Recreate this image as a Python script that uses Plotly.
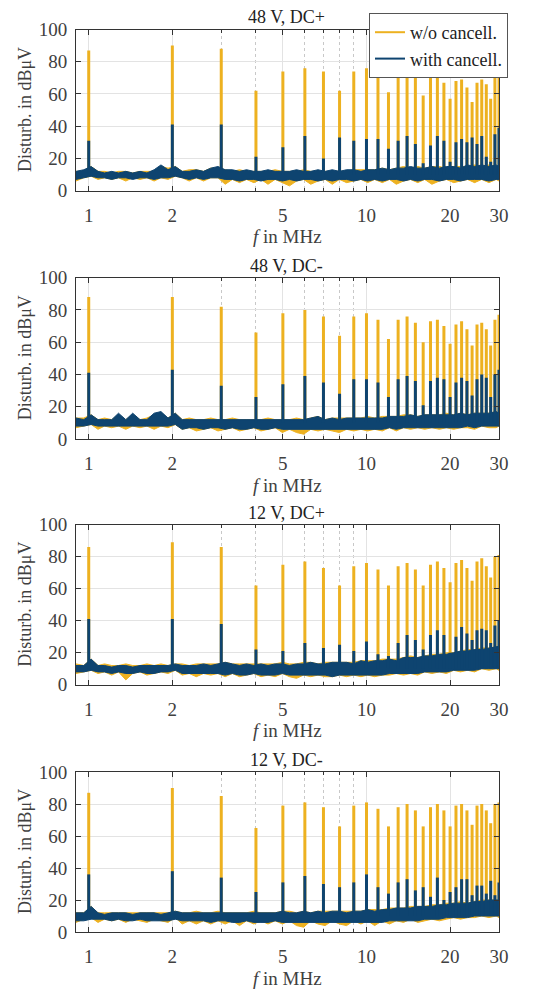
import plotly.graph_objects as go
from plotly.subplots import make_subplots

# ------------------------------------------------------------------
# data
# ------------------------------------------------------------------
titles = ["48 V, DC+", "48 V, DC-", "12 V, DC+", "12 V, DC-"]

# harmonics of the 1 MHz switching frequency
harm_f = list(range(1, 31))

# peak levels in dBuV, one list per panel
peak_wo_1 = [87, 90, 88, 62, 74, 76, 74, 62, 74, 76, 72, 61, 73, 74, 70,
             59, 71, 72, 67, 57, 68, 69, 64, 55, 67, 69, 66, 57, 72, 76]
peak_with_1 = [31, 41, 41, 21, 27, 34, 20, 33, 31, 32, 32, 26, 31, 34, 29,
               17, 28, 34, 31, 18, 30, 32, 30, 33, 29, 34, 21, 18, 35, 39]
peak_wo_2 = [88, 88, 82, 66, 78, 80, 76, 64, 76, 78, 74, 62, 74, 76, 72,
             60, 73, 74, 70, 59, 71, 73, 68, 58, 71, 72, 68, 58, 74, 77]
peak_with_2 = [41, 43, 33, 26, 34, 39, 35, 28, 37, 37, 35, 26, 37, 39, 36,
               21, 36, 38, 37, 26, 35, 38, 36, 27, 37, 40, 38, 26, 40, 43]
peak_wo_3 = [86, 89, 86, 62, 75, 77, 73, 62, 74, 76, 72, 62, 74, 76, 72,
             62, 75, 77, 73, 64, 76, 78, 73, 65, 77, 79, 74, 67, 80, 81]
peak_with_3 = [41, 41, 38, 22, 21, 26, 23, 25, 21, 27, 19, 18, 26, 31, 28,
               22, 31, 34, 31, 20, 30, 36, 32, 28, 34, 35, 34, 26, 37, 40]
peak_wo_4 = [87, 90, 85, 65, 79, 81, 78, 66, 79, 81, 77, 66, 78, 80, 76,
             66, 78, 80, 76, 66, 79, 80, 76, 67, 79, 80, 76, 68, 80, 81]
peak_with_4 = [36, 38, 34, 25, 31, 35, 30, 28, 31, 36, 28, 24, 31, 33, 26,
               28, 22, 34, 20, 25, 28, 33, 33, 23, 29, 29, 24, 32, 23, 31]

# noise floor: frequencies where the band edges were read
floor_f = [0.90, 0.96, 1.02, 1.08, 1.14, 1.21, 1.28, 1.36, 1.44, 1.53,
           1.62, 1.72, 1.82, 1.93, 2.05, 2.17, 2.30, 2.44, 2.59, 2.75,
           2.92, 3.10, 3.29, 3.49, 3.70, 3.93, 4.17, 4.42, 4.69, 4.98,
           5.28, 5.60, 5.94, 6.30, 6.69, 7.10, 7.53, 7.99, 8.48, 9.00,
           9.55, 10.1, 10.7, 11.4, 12.1, 12.8, 13.6, 14.4, 15.3, 16.2,
           17.2, 18.3, 19.4, 20.6, 21.8, 23.1, 24.5, 26.0, 27.6, 29.3, 30.0]

# 48 V, DC+
with_hi_1 = [12, 13, 15, 12, 11, 12, 11, 12, 11, 12,
             11, 13, 16, 13, 15, 12, 12, 13, 12, 14,
             15, 13, 13, 12, 13, 12, 12, 13, 12, 12,
             12, 13, 12, 12, 13, 12, 13, 12, 13, 13,
             12, 13, 13, 14, 13, 14, 14, 15, 14, 14,
             15, 14, 15, 15, 14, 16, 15, 16, 15, 16, 15]
with_lo_1 = [7, 8, 9, 8, 8, 7, 8, 8, 7, 8,
             8, 7, 8, 8, 9, 8, 7, 8, 7, 8,
             8, 7, 7, 6, 7, 7, 6, 7, 7, 6,
             7, 6, 7, 7, 6, 7, 6, 7, 7, 6,
             7, 6, 7, 6, 7, 7, 6, 7, 6, 7,
             7, 6, 7, 7, 6, 7, 7, 7, 6, 7, 7]
wo_hi_1 = [12, 12, 15, 12, 12, 11, 12, 12, 11, 12,
           12, 12, 15, 14, 15, 12, 13, 13, 12, 14,
           14, 13, 12, 13, 12, 12, 12, 12, 13, 12,
           12, 12, 13, 12, 12, 12, 12, 12, 12, 13,
           13, 13, 13, 14, 13, 14, 15, 14, 15, 14,
           15, 15, 14, 15, 15, 15, 16, 15, 16, 15, 16]
wo_lo_1 = [6, 8, 9, 7, 8, 7, 8, 6, 8, 7,
           8, 6, 8, 7, 9, 8, 6, 8, 6, 8,
           8, 4, 7, 5, 7, 5, 7, 4, 7, 5,
           3, 6, 7, 4, 6, 7, 4, 7, 5, 6,
           7, 5, 7, 5, 7, 4, 6, 7, 5, 7,
           4, 6, 7, 5, 6, 7, 5, 7, 5, 7, 6]

# 48 V, DC-
with_hi_2 = [13, 12, 15, 12, 12, 12, 16, 12, 16, 12,
             12, 16, 17, 13, 16, 12, 12, 12, 12, 12,
             12, 12, 12, 12, 12, 12, 12, 12, 12, 12,
             12, 12, 12, 13, 14, 12, 13, 12, 13, 13,
             13, 13, 13, 13, 14, 14, 14, 15, 14, 15,
             15, 15, 15, 15, 16, 15, 16, 16, 16, 17, 16]
with_lo_2 = [8, 8, 9, 8, 8, 8, 8, 8, 8, 8,
             8, 8, 8, 8, 9, 6, 7, 7, 6, 7,
             7, 6, 7, 6, 6, 7, 6, 6, 7, 6,
             6, 6, 6, 6, 6, 6, 6, 6, 6, 6,
             6, 6, 6, 6, 7, 6, 7, 7, 7, 7,
             7, 7, 7, 7, 7, 8, 7, 8, 8, 8, 8]
wo_hi_2 = [13, 13, 15, 12, 13, 12, 15, 12, 15, 12,
           13, 15, 16, 13, 16, 12, 13, 12, 12, 13,
           12, 12, 13, 12, 12, 12, 12, 13, 12, 12,
           12, 13, 12, 13, 14, 12, 13, 13, 13, 13,
           13, 14, 13, 14, 14, 14, 15, 15, 14, 15,
           15, 15, 16, 15, 16, 15, 16, 16, 16, 17, 16]
wo_lo_2 = [7, 8, 9, 6, 8, 7, 8, 6, 8, 7,
           8, 6, 8, 7, 9, 6, 7, 5, 6, 7,
           5, 6, 7, 5, 6, 7, 5, 6, 7, 4,
           6, 4, 3, 6, 5, 6, 5, 4, 6, 5,
           6, 5, 6, 5, 7, 5, 7, 6, 7, 6,
           7, 6, 7, 6, 7, 7, 6, 8, 7, 7, 8]

# 12 V, DC+
with_hi_3 = [12, 12, 16, 12, 12, 11, 12, 12, 11, 12,
             12, 12, 12, 12, 13, 12, 12, 12, 13, 12,
             13, 14, 13, 12, 13, 12, 13, 12, 13, 13,
             12, 13, 13, 14, 13, 13, 14, 14, 14, 13,
             15, 14, 15, 15, 16, 15, 17, 17, 17, 18,
             18, 19, 19, 20, 21, 21, 22, 22, 23, 24, 24]
with_lo_3 = [8, 8, 9, 8, 8, 7, 8, 7, 7, 8,
             7, 7, 8, 8, 9, 7, 7, 7, 7, 7,
             7, 6, 7, 6, 6, 7, 6, 6, 6, 7,
             6, 6, 6, 6, 6, 6, 5, 6, 6, 6,
             6, 6, 6, 6, 7, 7, 7, 7, 7, 8,
             8, 8, 8, 9, 9, 9, 9, 10, 10, 10, 10]
wo_hi_3 = [13, 12, 16, 12, 13, 12, 12, 13, 12, 12,
           13, 12, 13, 12, 13, 13, 12, 13, 13, 13,
           13, 14, 13, 13, 13, 13, 13, 13, 13, 14,
           13, 13, 14, 14, 13, 14, 14, 14, 14, 14,
           15, 15, 15, 16, 16, 16, 17, 18, 17, 18,
           19, 19, 20, 20, 21, 22, 22, 23, 23, 24, 24]
wo_lo_3 = [7, 8, 9, 7, 8, 6, 8, 3, 7, 8,
           6, 7, 8, 7, 9, 6, 7, 5, 7, 6,
           7, 5, 7, 5, 6, 7, 5, 6, 5, 7,
           5, 4, 6, 5, 6, 5, 5, 6, 5, 6,
           5, 6, 5, 6, 6, 7, 6, 7, 6, 8,
           7, 8, 7, 9, 8, 9, 8, 10, 9, 10, 9]

# 12 V, DC-
with_hi_4 = [12, 12, 16, 12, 11, 12, 12, 12, 11, 12,
             12, 12, 11, 12, 13, 12, 12, 12, 12, 12,
             12, 12, 12, 12, 12, 12, 12, 12, 12, 13,
             12, 12, 13, 12, 13, 12, 13, 13, 12, 13,
             13, 14, 13, 14, 14, 15, 15, 15, 16, 16,
             16, 17, 17, 18, 18, 18, 19, 19, 20, 20, 20]
with_lo_4 = [7, 7, 8, 8, 8, 7, 8, 7, 7, 8,
             7, 7, 7, 7, 8, 7, 7, 7, 7, 6,
             7, 7, 6, 6, 7, 6, 6, 6, 7, 6,
             6, 6, 6, 6, 6, 6, 6, 6, 6, 6,
             6, 6, 6, 6, 7, 7, 7, 7, 7, 8,
             8, 8, 9, 9, 9, 9, 10, 10, 10, 10, 10]
wo_hi_4 = [12, 12, 16, 12, 12, 12, 12, 12, 12, 12,
           12, 12, 12, 12, 13, 12, 12, 13, 12, 12,
           13, 12, 12, 12, 12, 13, 12, 12, 12, 13,
           13, 12, 13, 12, 13, 13, 13, 13, 13, 13,
           13, 14, 14, 14, 15, 15, 15, 16, 16, 16,
           17, 17, 18, 18, 19, 18, 19, 20, 20, 20, 20]
wo_lo_4 = [6, 8, 9, 6, 8, 7, 8, 6, 8, 7,
           6, 8, 7, 6, 9, 5, 7, 5, 7, 5,
           7, 5, 7, 4, 7, 5, 7, 5, 7, 5,
           7, 4, 3, 7, 5, 4, 7, 5, 4, 7,
           5, 7, 4, 7, 5, 7, 6, 8, 6, 7,
           8, 7, 8, 9, 8, 9, 9, 10, 9, 10, 9]

panels = [
    (peak_wo_1, peak_with_1, wo_lo_1, wo_hi_1, with_lo_1, with_hi_1),
    (peak_wo_2, peak_with_2, wo_lo_2, wo_hi_2, with_lo_2, with_hi_2),
    (peak_wo_3, peak_with_3, wo_lo_3, wo_hi_3, with_lo_3, with_hi_3),
    (peak_wo_4, peak_with_4, wo_lo_4, wo_hi_4, with_lo_4, with_hi_4),
]

# ------------------------------------------------------------------
# styling / geometry
# ------------------------------------------------------------------
YELLOW = "#EDB120"
BLUE = "#0E4470"
TXT = "#404040"
FONT = "Liberation Serif"

OFF = 8                      # the page's default body margin
W, H = 541 - OFF, 989 - OFF
L, R = 76 - OFF, 42
PW = W - L - R

# plot-box top / bottom in page pixels, per panel
box_px = [(29.5, 190.7), (277.7, 439.0), (524.7, 684.7), (772.0, 932.0)]


def px_x(x):
    return (x - OFF - L) / PW


def px_y(y):
    return 1 - (y - OFF) / H


def spikes(freqs, peaks, base=10):
    xs, ys = [], []
    for f, p in zip(freqs, peaks):
        xs += [f, f, None]
        ys += [base, p, None]
    return xs, ys


fig = make_subplots(rows=4, cols=1)

for i, (pk_wo, pk_with, wlo, whi, clo, chi) in enumerate(panels):
    row = i + 1

    # w/o cancellation: noise band + harmonics
    fig.add_trace(go.Scatter(
        x=floor_f + floor_f[::-1], y=whi + wlo[::-1],
        fill="toself", fillcolor=YELLOW, mode="lines",
        line=dict(color=YELLOW, width=1),
        showlegend=False, hoverinfo="skip",
    ), row=row, col=1)
    sx, sy = spikes(harm_f, pk_wo)
    fig.add_trace(go.Scatter(
        x=sx, y=sy, mode="lines", name="w/o cancell.",
        line=dict(color=YELLOW, width=3), showlegend=False,
    ), row=row, col=1)

    # with cancellation
    fig.add_trace(go.Scatter(
        x=floor_f + floor_f[::-1], y=chi + clo[::-1],
        fill="toself", fillcolor=BLUE, mode="lines",
        line=dict(color=BLUE, width=1),
        showlegend=False, hoverinfo="skip",
    ), row=row, col=1)
    sx, sy = spikes(harm_f, pk_with)
    fig.add_trace(go.Scatter(
        x=sx, y=sy, mode="lines", name="with cancell.",
        line=dict(color=BLUE, width=3), showlegend=False,
    ), row=row, col=1)

    top, bot = box_px[i]
    yax = "yaxis" if i == 0 else f"yaxis{row}"
    fig.layout[yax].domain = [px_y(bot), px_y(top)]

    # panel title, x label, y label
    fig.add_annotation(text=titles[i], xref="paper", yref="paper",
                       x=px_x(286), y=px_y(top - 12),
                       xanchor="center", yanchor="middle", showarrow=False,
                       font=dict(family=FONT, size=18, color="#222"))
    fig.add_annotation(text="<i>f</i> in MHz", xref="paper", yref="paper",
                       x=px_x(287), y=px_y(bot + 46),
                       xanchor="center", yanchor="middle", showarrow=False,
                       font=dict(family=FONT, size=19, color=TXT))
    fig.add_annotation(text="Disturb. in dBμV", xref="paper", yref="paper",
                       x=px_x(25), y=px_y((top + bot) / 2),
                       xanchor="center", yanchor="middle",
                       textangle=-90, showarrow=False,
                       font=dict(family=FONT, size=18, color=TXT))

# legend entries (thin lines, as in the reference legend)
for name, col in [("w/o cancell.", YELLOW), ("with cancell.", BLUE)]:
    fig.add_trace(go.Scatter(x=[None], y=[None], mode="lines", name=name,
                             line=dict(color=col, width=2)), row=1, col=1)

fig.update_xaxes(
    type="log", range=[-0.0458, 1.4771], automargin=False,
    tickvals=[1, 2, 5, 10, 20, 30], ticktext=["1", "2", "5", "10", "20", "30"],
    ticks="inside", ticklen=5, tickcolor="#333", ticklabelstandoff=7,
    showline=True, linecolor="#333", linewidth=1, mirror="allticks",
    showgrid=True, gridcolor="#e3e3e3", gridwidth=1,
    minor=dict(tickvals=[3, 4, 6, 7, 8, 9], ticks="inside", ticklen=3,
               tickcolor="#333", showgrid=True, gridcolor="#c8c8c8",
               griddash="dot", gridwidth=1),
    tickfont=dict(family=FONT, size=19, color=TXT),
    zeroline=False,
)
fig.update_yaxes(
    range=[0, 100], tickvals=[0, 20, 40, 60, 80, 100], automargin=False,
    ticks="inside", ticklen=5, tickcolor="#333", ticklabelstandoff=4,
    showline=True, linecolor="#333", linewidth=1, mirror="allticks",
    showgrid=True, gridcolor="#e3e3e3", gridwidth=1,
    tickfont=dict(family=FONT, size=19, color=TXT),
    zeroline=False,
)

fig.update_layout(
    width=W, height=H,
    margin=dict(l=L, r=R, t=0, b=0),
    plot_bgcolor="white", paper_bgcolor="white",
    legend=dict(
        x=px_x(508), y=px_y(13), xanchor="right", yanchor="top",
        bordercolor="#555", borderwidth=1, bgcolor="white",
        font=dict(family=FONT, size=18, color="#222"),
        tracegroupgap=0,
    ),
)

fig.write_html("out.html")
